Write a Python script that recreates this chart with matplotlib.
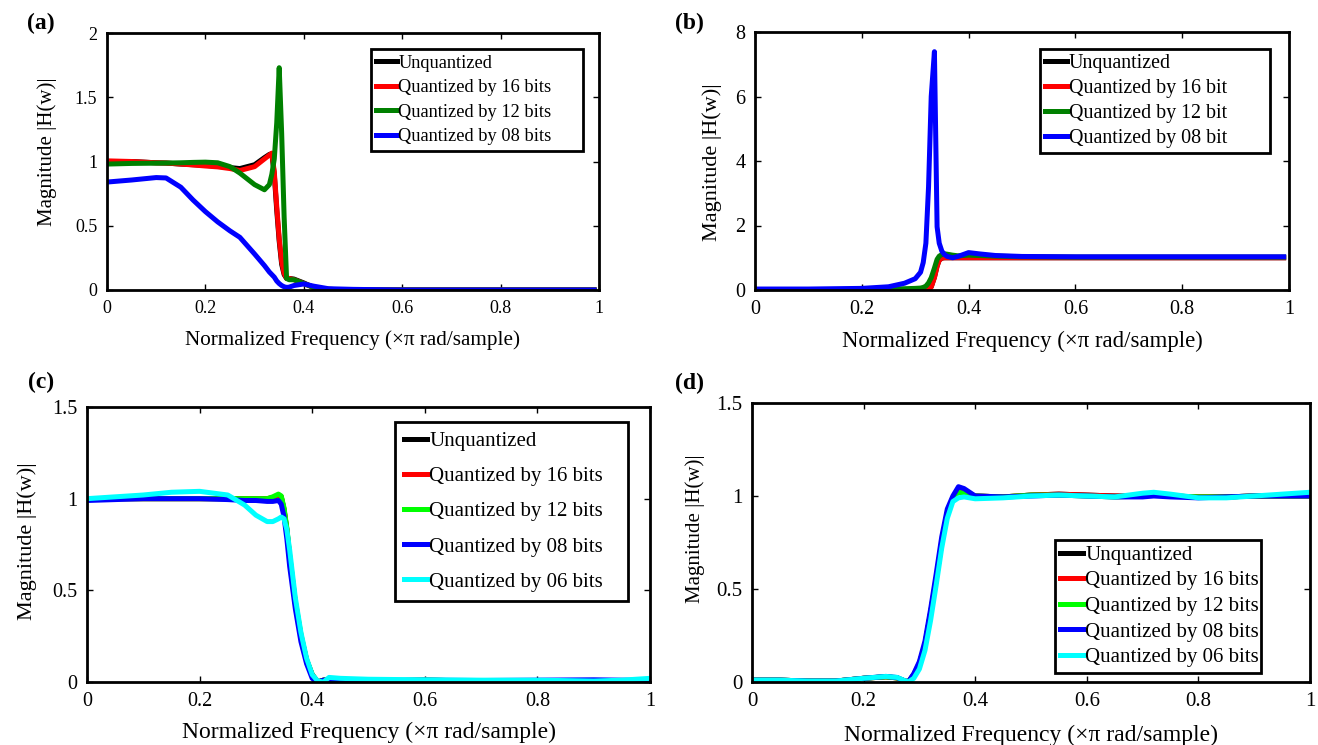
import matplotlib
matplotlib.use("Agg")
import matplotlib.pyplot as plt

plt.rcParams['font.family'] = ['Liberation Serif', 'DejaVu Serif']

# ---- (a) lowpass, 4 filters ----
xa = [0, 0.05, 0.1, 0.12, 0.15, 0.175, 0.2, 0.225, 0.25, 0.27, 0.3, 0.32, 0.33, 0.335, 0.34, 0.345,
      0.35, 0.355, 0.36, 0.365, 0.37, 0.38, 0.4, 0.42, 0.45, 0.5, 0.6, 0.7, 0.8, 0.9, 0.99]
a_unq = [1.0, 1.0, 0.99, 0.988, 0.98, 0.975, 0.97, 0.963, 0.953, 0.945, 0.975, 1.03, 1.055, 1.06, 0.9,
         0.62, 0.38, 0.2, 0.12, 0.09, 0.09, 0.085, 0.055, 0.02, 0.005, 0, 0, 0, 0, 0, 0]
a_q16 = [1.005, 1.0, 0.99, 0.988, 0.98, 0.973, 0.965, 0.958, 0.945, 0.93, 0.96, 1.02, 1.05, 1.065, 0.92,
         0.65, 0.4, 0.22, 0.13, 0.09, 0.09, 0.08, 0.05, 0.02, 0.005, 0, 0, 0, 0, 0, 0]
a_q12 = [0.98, 0.985, 0.987, 0.988, 0.99, 0.993, 0.995, 0.99, 0.96, 0.91, 0.82, 0.78, 0.82, 0.9, 1.02,
         1.3, 1.73, 1.22, 0.57, 0.09, 0.08, 0.08, 0.05, 0.02, 0.005, 0, 0, 0, 0, 0, 0]
a_q08 = [0.84, 0.856, 0.875, 0.872, 0.8, 0.7, 0.61, 0.53, 0.46, 0.41, 0.28, 0.19, 0.14, 0.12, 0.1,
         0.07, 0.05, 0.035, 0.025, 0.02, 0.022, 0.035, 0.047, 0.03, 0.01, 0.005, 0, 0, 0, 0, 0]
a_labels = ['Unquantized', 'Quantized by 16 bits', 'Quantized by 12 bits', 'Quantized by 08 bits']

# ---- (b) highpass, 4 filters ----
xb = [0, 0.1, 0.2, 0.25, 0.28, 0.3, 0.31, 0.315, 0.32, 0.325, 0.33, 0.336, 0.341, 0.345,
      0.35, 0.355, 0.36, 0.37, 0.38, 0.4, 0.42, 0.45, 0.5, 0.6, 0.7, 0.8, 0.9, 0.99]
b_unq = [0, 0, 0, 0, 0, 0, 0, 0, 0.005, 0.02, 0.1, 0.4, 0.75, 0.93,
         0.99, 1.0, 1.0, 1.0, 1.0, 1.0, 1.0, 1.0, 1.0, 1.0, 1.0, 1.0, 1.0, 1.0]
b_q16 = [0, 0, 0, 0, 0, 0, 0, 0, 0.005, 0.02, 0.09, 0.38, 0.73, 0.92,
         0.99, 1.0, 1.0, 1.0, 1.0, 1.0, 1.0, 1.0, 1.0, 1.0, 1.0, 1.0, 1.0, 1.0]
b_q12 = [0.01, 0.01, 0.02, 0.03, 0.04, 0.05, 0.06, 0.08, 0.12, 0.22, 0.38, 0.68, 0.95, 1.05,
         1.1, 1.12, 1.11, 1.08, 1.06, 1.08, 1.07, 1.05, 1.03, 1.02, 1.02, 1.02, 1.02, 1.02]
b_q08 = [0.03, 0.03, 0.05, 0.1, 0.21, 0.35, 0.55, 0.85, 1.45, 3.2, 6.0, 7.39, 1.96, 1.45,
         1.2, 1.1, 1.04, 1.0, 1.04, 1.16, 1.12, 1.07, 1.04, 1.03, 1.03, 1.03, 1.03, 1.03]
b_labels = ['Unquantized', 'Quantized by 16 bit', 'Quantized by 12 bit', 'Quantized by 08 bit']

# ---- (c) lowpass, 5 filters ----
xc = [0, 0.05, 0.1, 0.15, 0.2, 0.25, 0.28, 0.3, 0.32, 0.33, 0.34, 0.345, 0.35, 0.355, 0.36,
      0.37, 0.38, 0.39, 0.4, 0.41, 0.42, 0.43, 0.45, 0.5, 0.6, 0.7, 0.8, 0.9, 0.95, 1.0]
c_unq = [1.0, 1.0, 1.0, 1.0, 1.0, 1.0, 1.0, 1.0, 1.0, 1.005, 1.02, 1.01, 0.94, 0.83, 0.68,
         0.43, 0.25, 0.12, 0.04, 0.0, 0.01, 0.012, 0.01, 0.005, 0.01, 0.005, 0.005, 0.005, 0.005, 0.01]
c_q16 = [1.0, 1.0, 1.0, 1.0, 1.0, 1.0, 1.0, 1.0, 1.0, 1.005, 1.02, 1.01, 0.94, 0.83, 0.68,
         0.43, 0.25, 0.12, 0.04, 0.0, 0.01, 0.012, 0.01, 0.005, 0.01, 0.005, 0.005, 0.005, 0.005, 0.01]
c_q12 = [1.0, 1.0, 1.0, 1.0, 1.0, 1.0, 1.0, 1.0, 1.0, 1.01, 1.025, 1.015, 0.95, 0.84, 0.69,
         0.44, 0.26, 0.12, 0.04, 0.0, 0.01, 0.012, 0.01, 0.005, 0.01, 0.005, 0.005, 0.005, 0.005, 0.01]
c_q08 = [0.99, 0.995, 1.0, 1.0, 1.0, 0.995, 0.99, 0.99, 0.985, 0.985, 0.99, 0.97, 0.9, 0.78, 0.63,
         0.4, 0.22, 0.1, 0.02, 0.0, 0.01, 0.012, 0.01, 0.008, 0.01, 0.008, 0.01, 0.012, 0.01, 0.01]
c_q06 = [1.0, 1.01, 1.02, 1.035, 1.04, 1.02, 0.965, 0.91, 0.875, 0.875, 0.89, 0.9, 0.89, 0.83, 0.72,
         0.46, 0.27, 0.13, 0.04, 0.005, 0.0, 0.025, 0.02, 0.015, 0.012, 0.01, 0.01, 0.005, 0.01, 0.02]
cd_labels = ['Unquantized', 'Quantized by 16 bits', 'Quantized by 12 bits',
             'Quantized by 08 bits', 'Quantized by 06 bits']

# ---- (d) highpass, 5 filters ----
xd = [0, 0.05, 0.1, 0.15, 0.2, 0.24, 0.26, 0.27, 0.28, 0.29, 0.3, 0.31, 0.32, 0.33, 0.34, 0.35,
      0.36, 0.37, 0.38, 0.4, 0.45, 0.5, 0.55, 0.6, 0.65, 0.7, 0.72, 0.75, 0.8, 0.85, 0.9, 1.0]
d_unq = [0.01, 0.01, 0.005, 0.005, 0.02, 0.028, 0.022, 0.01, 0.0, 0.04, 0.1, 0.2, 0.37, 0.55, 0.75, 0.91,
         0.99, 1.03, 1.02, 1.0, 0.995, 1.005, 1.01, 1.005, 1.0, 1.0, 1.005, 1.0, 0.995, 0.995, 1.0, 1.0]
d_q16 = [0.01, 0.01, 0.005, 0.005, 0.02, 0.028, 0.022, 0.01, 0.0, 0.04, 0.1, 0.2, 0.37, 0.55, 0.75, 0.91,
         0.99, 1.03, 1.02, 1.0, 0.995, 1.005, 1.01, 1.005, 1.0, 1.0, 1.005, 1.0, 0.995, 0.995, 1.0, 1.0]
d_q12 = [0.01, 0.01, 0.005, 0.005, 0.02, 0.028, 0.022, 0.01, 0.0, 0.04, 0.1, 0.2, 0.37, 0.55, 0.75, 0.91,
         0.99, 1.02, 1.015, 1.0, 0.995, 1.005, 1.005, 1.0, 0.995, 1.0, 1.005, 1.0, 0.995, 0.995, 1.0, 1.0]
d_q08 = [0.01, 0.01, 0.005, 0.005, 0.02, 0.03, 0.024, 0.01, 0.0, 0.045, 0.11, 0.22, 0.39, 0.58, 0.78, 0.93,
         1.0, 1.05, 1.04, 1.0, 0.995, 1.0, 1.005, 1.0, 0.995, 0.995, 1.0, 0.995, 0.99, 0.995, 1.0, 1.0]
d_q06 = [0.01, 0.01, 0.005, 0.005, 0.02, 0.03, 0.025, 0.012, 0.0, 0.02, 0.07, 0.17, 0.33, 0.52, 0.72, 0.88,
         0.97, 0.99, 0.995, 0.985, 0.99, 1.0, 1.005, 1.0, 0.995, 1.015, 1.02, 1.01, 0.99, 0.99, 1.0, 1.02]

xt = [0, 0.2, 0.4, 0.6, 0.8, 1]
xt_lab = ['0', '0.2', '0.4', '0.6', '0.8', '1']

W, H = 1318, 745
fig = plt.figure(figsize=(W / 100, H / 100), dpi=100)


def px_axes(l, r, t, b):
    ax = fig.add_axes([l / W, (H - b) / H, (r - l) / W, (b - t) / H])
    ax.box_px = (l, r, t, b)
    return ax


def style(ax, ylim, yt, ylab, tfs, xfs, yfs):
    ax.set_xlim(0, 1)
    ax.set_ylim(*ylim)
    ax.set_xticks(xt)
    ax.set_xticklabels(xt_lab)
    ax.set_yticks(yt)
    ax.set_yticklabels(ylab)
    ax.tick_params(direction='in', length=4, width=1, top=True, right=True,
                   labelsize=tfs, pad=7)
    for s in ax.spines.values():
        s.set_linewidth(2)
    ax.set_xlabel('Normalized Frequency (\u00d7\u03c0 rad/sample)', fontsize=xfs)
    ax.set_ylabel('Magnitude |H(w)|', fontsize=yfs)
    ax.xaxis.label.set_va('center')
    ax.yaxis.label.set_va('center')


def legend_px(ax, l, r, t, fs, ls, bp):
    al, ar, at, ab = ax.box_px
    x0 = (l - al) / (ar - al)
    w = (r - l) / (ar - al)
    y0 = (ab - t) / (ab - at)
    leg = ax.legend(loc='upper left', bbox_to_anchor=(x0, y0, w, 0), mode='expand',
                    fontsize=fs, handlelength=1.1, handletextpad=0.1, labelspacing=ls,
                    borderpad=bp, borderaxespad=0, fancybox=False, framealpha=1)
    leg.get_frame().set_edgecolor('k')
    leg.get_frame().set_linewidth(2)


lw = 3.6

# (a)
ax = px_axes(107, 599, 33, 290)
for y, c, lab in zip([a_unq, a_q16, a_q12, a_q08], ['k', '#ff0000', '#008000', '#0000ff'], a_labels):
    ax.plot(xa, y, color=c, lw=lw, label=lab)
style(ax, (0, 2), [0, 0.5, 1, 1.5, 2], ['0', '0.5', '1', '1.5', '2'], 13, 15.2, 15)
ax.xaxis.set_label_coords(0.5, -0.195)
ax.yaxis.set_label_coords(-0.122, 0.537)
legend_px(ax, 371, 583, 49, 13.2, 0.41, 0.3)
fig.text(27 / W, 1 - 23 / H, '(a)', fontsize=17, fontweight='bold', va='center')

# (b)
ax = px_axes(755, 1289, 32, 290)
for y, c, lab in zip([b_unq, b_q16, b_q12, b_q08], ['k', '#ff0000', '#008000', '#0000ff'], b_labels):
    ax.plot(xb, y, color=c, lw=lw, label=lab)
style(ax, (0, 8), [0, 2, 4, 6, 8], ['0', '2', '4', '6', '8'], 14.5, 16.4, 16)
ax.xaxis.set_label_coords(0.5, -0.2)
ax.yaxis.set_label_coords(-0.0805, 0.496)
legend_px(ax, 1040, 1270, 49, 14.4, 0.3, 0.25)
fig.text(675 / W, 1 - 23 / H, '(b)', fontsize=17, fontweight='bold', va='center')

cd_colors = ['k', '#ff0000', '#00ff00', '#0000ff', '#00ffff']

# (c)
ax = px_axes(87, 650, 407, 682)
for y, c, lab in zip([c_unq, c_q16, c_q12, c_q08, c_q06], cd_colors, cd_labels):
    ax.plot(xc, y, color=c, lw=lw, label=lab)
style(ax, (0, 1.5), [0, 0.5, 1, 1.5], ['0', '0.5', '1', '1.5'], 14.5, 17, 16)
ax.xaxis.set_label_coords(0.5, -0.185)
ax.yaxis.set_label_coords(-0.1066, 0.513)
legend_px(ax, 395, 628, 422, 15, 0.75, 0.45)
fig.text(28 / W, 1 - 382 / H, '(c)', fontsize=17, fontweight='bold', va='center')

# (d)
ax = px_axes(752, 1310, 403, 682)
for y, c, lab in zip([d_unq, d_q16, d_q12, d_q08, d_q06], cd_colors, cd_labels):
    ax.plot(xd, y, color=c, lw=lw, label=lab)
style(ax, (0, 1.5), [0, 0.5, 1, 1.5], ['0', '0.5', '1', '1.5'], 15, 17, 15)
ax.xaxis.set_label_coords(0.5, -0.19)
ax.yaxis.set_label_coords(-0.102, 0.548)
legend_px(ax, 1055, 1261, 540, 15, 0.29, 0.25)
fig.text(675 / W, 1 - 383 / H, '(d)', fontsize=17, fontweight='bold', va='center')

fig.savefig('out.png', dpi=100)
